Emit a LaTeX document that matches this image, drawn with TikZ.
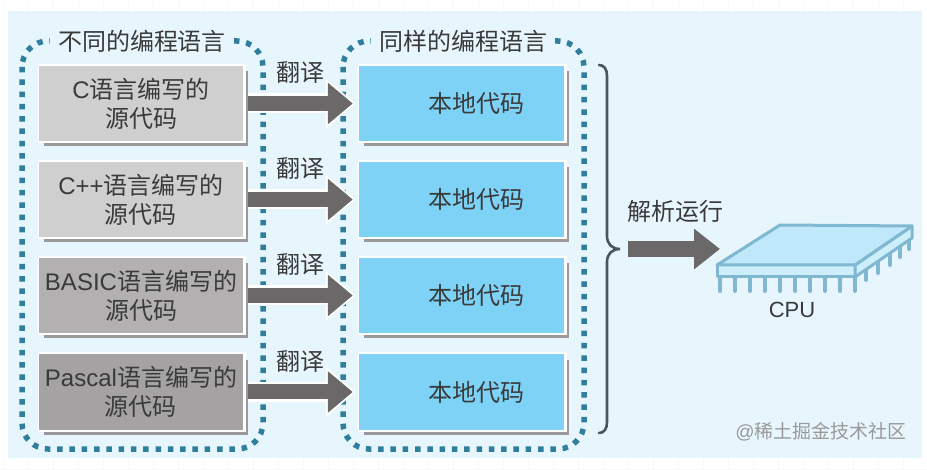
\documentclass[tikz,border=0pt]{standalone}
\usepackage{fontspec}
\setmainfont{Noto Sans CJK SC}
\newfontfamily\latfont{Liberation Sans}
\newcommand{\lat}[1]{{\latfont #1}}
\usetikzlibrary{arrows.meta}
\definecolor{panelc}{HTML}{E7F6FD}
\definecolor{dotc}{HTML}{2F7F9C}
\definecolor{arrowc}{HTML}{6A6869}
\definecolor{blueb}{HTML}{7DD2F6}
\definecolor{grayA}{HTML}{D0CFCF}
\definecolor{grayB}{HTML}{B2B0B0}
\definecolor{grayC}{HTML}{A4A2A2}
\definecolor{shadowc}{HTML}{9A9898}
\definecolor{txtc}{HTML}{3A3A3A}
\definecolor{bracec}{HTML}{4A5560}
\definecolor{cpufill}{HTML}{BFE8FA}
\definecolor{cpuside}{HTML}{CDEEFB}
\definecolor{cpuline}{HTML}{7FB8D0}
\definecolor{gridc}{HTML}{F8F8F8}
\tikzset{
  x=1pt,y=-1pt,
  lbl/.style={text=txtc,font=\fontsize{24}{29}\selectfont,align=center,inner sep=0pt},
  srcbox/.style={lbl,minimum width=204pt,minimum height=75pt},
  framebox/.style={draw=dotc,line width=5.5pt,dash pattern=on 5.5pt off 6.8pt,rounded corners=26pt},
  title/.style={lbl,fill=panelc,minimum width=184pt,minimum height=20pt},
  halo/.style={draw=white,line width=20pt,-{Triangle[length=30pt,width=48pt]}},
  blockarrow/.style={draw=arrowc,line width=15pt,-{Triangle[length=25pt,width=40pt]}},
  pin/.style={draw=cpuline,line width=4pt,line cap=round},
  cpuface/.style={draw=cpuline,line width=3pt,line join=round},
}
\begin{document}
\begin{tikzpicture}
\useasboundingbox (0,0) rectangle (927,470);
\fill[white] (0,0) rectangle (927,470);
\foreach \k in {0,...,36}{
  \draw[gridc,line width=1pt] (3+25*\k,0) -- (3+25*\k,470);
}
\draw[gridc,line width=1pt] (0,469) -- (927,469);
\fill[panelc] (8,11) rectangle (922,458);
% frames
\draw[framebox] (22,41) rectangle (263,449);
\draw[framebox] (343,41) rectangle (584,449);
\node[title] (titleA) at (142,41.5) {不同的编程语言};
\node[title] (titleB) at (463,41.5) {同样的编程语言};
% boxes
\foreach \nm/\yy/\col/\tx in {a/103.5/grayA/{\lat{C}语言编写的\\源代码},
  b/199.5/grayA/{\lat{C++}语言编写的\\源代码},
  c/295.5/grayB/{\lat{BASIC}语言编写的\\源代码},
  d/392/grayC/{\lat{Pascal}语言编写的\\源代码}}{
  \fill[shadowc] (44,\yy-32) rectangle (248,\yy+42.5);
  \fill[white] (37.5,\yy-39.5) rectangle (245.5,\yy+40);
  \node[srcbox,fill=\col] (s\nm) at (141,\yy) {\tx};
}
\foreach \nm/\yy in {a/103.5,b/199.5,c/295.5,d/392}{
  \fill[shadowc] (364,\yy-32) rectangle (569,\yy+42.5);
  \fill[white] (357.5,\yy-39.5) rectangle (566.5,\yy+40);
  \node[srcbox,fill=blueb,minimum width=205pt] (n\nm) at (461.5,\yy) {\hspace*{30pt}本地代码};
}
% arrows
\foreach \nm in {a,b,c,d}{
  \draw[halo,shorten <=5pt,shorten >=3pt] (s\nm.east) -- (n\nm.west);
  \draw[blockarrow,shorten <=5pt,shorten >=6pt] (s\nm.east) -- (n\nm.west);
}
\foreach \nm/\yy in {a/72,b/168,c/264,d/361}{
  \node[lbl] (tr\nm) at (300,\yy) {翻译};
}
% brace
\draw[bracec,line width=2.6pt,line cap=round]
  (599,65) .. controls (604,65) and (607,69) .. (607,76) -- (607,236)
  .. controls (607,244) and (612,249) .. (620,249)
  .. controls (612,249) and (607,254) .. (607,262) -- (607,422)
  .. controls (607,429) and (604,433) .. (599,433);
\coordinate (braceTip) at (628,249);
\coordinate (cpuIn) at (720,249);
\draw[blockarrow,line width=16pt,-{Triangle[length=26pt,width=39pt]}] (braceTip) -- (cpuIn);
\node[lbl] (run) at (675,211) {解析运行};
% CPU pins
\foreach \xx in {720,735,750,765,780,795,810,825,840,855}{
  \draw[pin] (\xx,277) -- (\xx,291);
}
\draw[pin] (866,270) -- (866,280);
\draw[pin] (878,262) -- (878,273);
\draw[pin] (890,254) -- (890,265);
\draw[pin] (900,246) -- (900,257);
\draw[pin] (909,240) -- (909,249);
\draw[cpuface,fill=cpuside] (717,265) -- (855,265) -- (855,277) -- (717,277) -- cycle;
\draw[cpuface,fill=cpuside] (855,265) -- (912,226) -- (912,238) -- (855,277) -- cycle;
\draw[cpuface,fill=cpufill] (717,265) -- (780,225) -- (912,226) -- (855,265) -- cycle;
\node[text=txtc,inner sep=0pt,font=\latfont\fontsize{22}{24}\selectfont] (cpu) at (792,310) {CPU};
\node[text=shadowc,inner sep=0pt,font=\fontsize{19}{22}\selectfont] (wm) at (821,432) {\lat{@}稀土掘金技术社区};
\end{tikzpicture}
\end{document}
